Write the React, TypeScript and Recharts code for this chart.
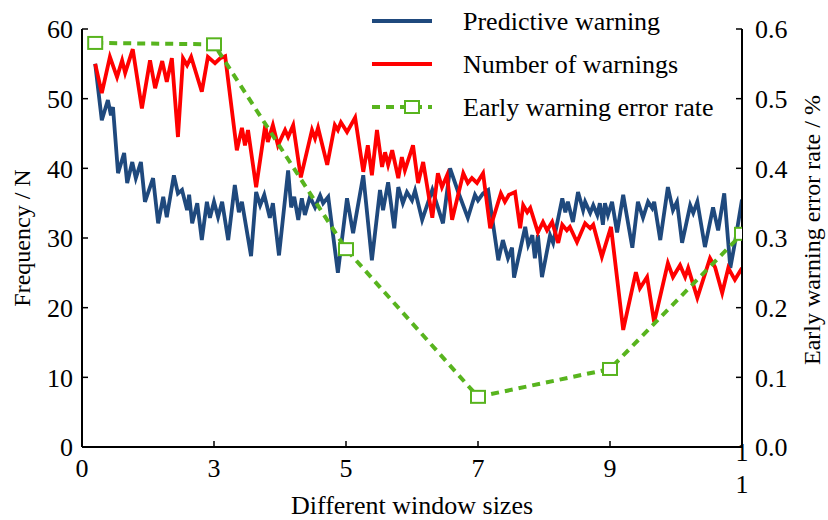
import React from 'react';
import { ComposedChart, Line, XAxis, YAxis, Legend, Label } from 'recharts';

const FONT = 'Liberation Serif, Times New Roman, Times, DejaVu Serif, serif';
const FS = 26;
const FS_ROT = 24;

const xTickPositions = [0, 26, 52, 78, 104, 130];
const xTickLabels = ['0', '3', '5', '7', '9', '11'];
const leftTicks = [0, 10, 20, 30, 40, 50, 60];
const rightTicks = [0, 0.1, 0.2, 0.3, 0.4, 0.5, 0.6];

const predictiveX = [2.6,3.9,5.1,5.7,6.1,7.1,8.3,8.9,9.9,10.6,11.6,12.4,14.0,15.0,16.0,16.7,18.1,18.9,19.7,20.7,21.1,21.7,22.7,23.6,24.6,25.2,26.0,26.8,27.6,28.8,30.1,30.9,31.5,33.3,34.3,35.1,35.9,37.0,37.6,38.8,40.6,41.2,41.8,42.6,43.3,43.9,44.9,45.9,46.9,47.5,48.5,50.4,52.2,53.4,55.4,57.1,58.7,59.3,60.3,61.5,62.3,63.2,64.0,65.0,65.6,67.0,69.0,71.1,72.5,74.1,76.0,77.4,78.0,79.0,80.0,82.0,82.9,83.9,84.7,85.1,87.3,87.9,88.7,89.2,89.8,90.6,92.2,92.8,94.6,95.2,95.7,96.7,97.7,98.7,99.1,100.1,100.7,101.5,102.0,102.6,103.0,103.6,104.4,105.4,106.6,108.4,109.5,110.5,111.5,112.3,112.7,113.9,115.4,116.4,117.2,118.2,119.8,120.4,121.2,122.7,124.3,125.3,126.5,127.7,128.6,130];
const predictiveY = [55,46.9,49.8,47.6,48.8,39.3,42.2,37.9,40.9,38.6,40.9,35.2,38.6,32.1,35.9,33,39,36.4,36.9,34,36.2,32.1,35,29.7,35.2,32.9,35.2,33,35.2,29.7,37.6,33.7,35.2,27.4,36.6,34.7,36.2,32.9,35,27.5,39.7,34.4,35.9,32.6,35.7,33.3,35.9,34.4,36.1,35,35.9,25,35.7,30.7,39,26.8,36.9,34,38,31.4,37.3,35,36.6,35.4,36.8,32.6,36.9,32.1,40,36.6,32.9,36.2,35.4,36.4,36.9,26.8,29.7,27.1,28.6,24.3,31.6,29,30.4,27.1,30.4,24.4,30.4,29.3,35.7,33.7,35.2,32.3,36.6,34,35.2,33.6,34.7,33.3,35,31.9,35,33.3,35.2,30.8,36.2,28.6,35.2,32.9,35.2,34.3,35.2,29.7,37.3,34,35.2,29.3,34.7,33.6,35.2,28.7,34.4,31.1,36.4,25.7,29.3,35.5];

const warningsX = [2.6,3.9,5.5,6.9,7.9,8.5,10.0,11.8,13.4,14.4,15.8,16.7,17.7,18.9,19.9,20.7,21.5,23.6,24.8,26.2,27.2,28.2,30.5,31.5,32.1,32.7,34.3,36.1,36.6,37.6,38.6,40.0,40.6,41.6,43.1,45.3,45.9,46.5,48.3,49.8,50.4,51.0,52.2,53.8,55.4,56.3,57.1,58.1,59.1,59.7,60.3,61.1,62.3,63.0,63.6,65.2,66.2,67.2,69.0,70.1,70.9,71.9,72.9,75.1,76.0,76.8,77.8,79.0,80.4,82.5,83.3,84.1,85.3,86.3,86.9,87.7,88.3,89.8,90.8,91.6,92.6,93.8,94.6,95.5,96.1,97.5,99.1,100.1,100.7,102.4,104.2,106.6,109.1,109.9,111.3,112.7,115.4,116.4,117.8,118.8,119.4,121.2,123.7,124.7,126.1,127.3,128.6,130];
const warningsY = [55,50.8,56,53.1,55.5,53.7,57.1,48.6,55.5,51.5,55.4,52.4,55.8,44.5,55.8,54.8,56,51,56,55.1,55.8,56.1,42.6,45.8,43.3,45.5,37.3,46.2,43.8,46.2,43.3,45.5,44.5,46.2,38.7,45.5,44.3,45.8,40.5,46.2,45.5,46.6,45.2,47.3,39.5,43.3,39,45.5,40.2,42.3,40.5,42.6,38.6,41.6,39.7,43.3,37.9,40.9,32.9,39.3,37.3,39,32.6,39.3,37.9,38.6,37.9,39.3,31.4,36.4,35.2,36.2,36.6,31.4,34.7,33.7,34.3,30.8,32.3,31.1,32.3,29.3,31.9,31.1,31.6,29.4,32.1,31.4,31.9,27.3,31.6,16.8,25.1,22.8,24.4,17.9,26.4,24.4,26.1,24.4,25.7,21.4,27.1,25.8,22.1,25.7,24,25.7];

const errorRateX = [2.6, 26, 52, 78, 104, 130];
const errorRateY = [0.58, 0.578, 0.284, 0.072, 0.112, 0.306];

const BLUE = '#1F497D';
const RED = '#FF0000';
const GREEN = '#58B41E';

const predictiveData = predictiveX.map((x, i) => ({ x, v: predictiveY[i] }));
const warningsData = warningsX.map((x, i) => ({ x, v: warningsY[i] }));
const errorData = errorRateX.map((x, i) => ({ x, v: errorRateY[i] }));

const legendItems = [
  { name: 'Predictive warning', color: BLUE, dashed: false, marker: false },
  { name: 'Number of warnings', color: RED, dashed: false, marker: false },
  { name: 'Early warning error rate', color: GREEN, dashed: true, marker: true },
];

const txtStyle = { fontFamily: FONT };

const SquareDot = (props: any) => {
  const { cx, cy, index } = props;
  if (cx == null || cy == null) return null;
  return <rect key={'d' + index} x={cx - 7} y={cy - 6} width={14} height={12} fill="#fff" stroke={GREEN} strokeWidth={2} />;
};

const XTick = (props: any) => {
  const { x, y, payload } = props;
  const idx = xTickPositions.indexOf(payload.value);
  const label = idx >= 0 ? xTickLabels[idx] : String(payload.value);
  const lines = label.length > 1 ? label.split('') : [label];
  const lh = 32;
  return (
    <text x={x} y={y} textAnchor="middle" style={txtStyle} fontSize={FS} fill="#000">
      {lines.map((l, i) => (
        <tspan key={i} x={x} dy={i === 0 ? 9 - ((lines.length - 1) * lh) / 2 : lh}>{l}</tspan>
      ))}
    </text>
  );
};

const renderLegend = () => (
  <svg width={400} height={130}>
    {legendItems.map((it, i) => {
      const y = 21 + i * 43;
      return (
        <g key={it.name}>
          <line x1={12} x2={72} y1={y} y2={y} stroke={it.color} strokeWidth={it.dashed ? 4 : 3.8}
            strokeDasharray={it.dashed ? '8 6' : undefined} />
          {it.marker && <rect x={45} y={y - 6} width={14} height={12} fill="#fff" stroke={it.color} strokeWidth={2} />}
          <text x={103} y={y} dy={8.5} style={txtStyle} fontSize={FS} fill="#000">{it.name}</text>
        </g>
      );
    })}
  </svg>
);

export default function App() {
  return (
    <div style={{ position: 'absolute', left: 0, top: 0, width: 828, height: 520, background: '#fff', fontFamily: FONT }}>
      <ComposedChart width={828} height={520} margin={{ top: 29, right: 0, bottom: 0, left: 22 }} style={txtStyle}>
        <XAxis
          xAxisId="x"
          dataKey="x"
          type="number"
          domain={[0, 130]}
          ticks={xTickPositions}
          allowDataOverflow
          height={73}
          tickSize={-6}
          tickMargin={27}
          tick={<XTick />}
          axisLine={{ stroke: '#000', strokeWidth: 2 }}
          tickLine={{ stroke: '#000', strokeWidth: 1.5 }}
        >
          <Label
            content={(p: any) => {
              const vb = p.viewBox || {};
              return (
                <text x={vb.x + vb.width / 2} y={vb.y + 67} textAnchor="middle" style={txtStyle} fontSize={FS} fill="#000">
                  Different window sizes
                </text>
              );
            }}
          />
        </XAxis>
        <YAxis
          yAxisId="left"
          orientation="left"
          domain={[0, 60]}
          ticks={leftTicks}
          width={60}
          tickSize={-6}
          tickMargin={15}
          tick={{ fontSize: FS, fill: '#000', style: txtStyle }}
          axisLine={{ stroke: '#000', strokeWidth: 2 }}
          tickLine={{ stroke: '#000', strokeWidth: 1.5 }}
        >
          <Label
            content={(p: any) => {
              const vb = p.viewBox || {};
              const cx = vb.x;
              const cy = vb.y + vb.height / 2;
              return (
                <text x={cx} y={cy} dy={8} transform={`rotate(-90, ${cx}, ${cy})`} textAnchor="middle" style={txtStyle} fontSize={FS_ROT} fill="#000">
                  Frequency / N
                </text>
              );
            }}
          />
        </YAxis>
        <YAxis
          yAxisId="right"
          orientation="right"
          domain={[0, 0.6]}
          ticks={rightTicks}
          width={86}
          tickSize={-6}
          tickMargin={19}
          tickFormatter={(v: number) => v.toFixed(1)}
          tick={{ fontSize: FS, fill: '#000', style: txtStyle }}
          axisLine={{ stroke: '#000', strokeWidth: 2 }}
          tickLine={{ stroke: '#000', strokeWidth: 1.5 }}
        >
          <Label
            content={(p: any) => {
              const vb = p.viewBox || {};
              const cx = vb.x + 70;
              const cy = vb.y + vb.height / 2 - 8;
              return (
                <text x={cx} y={cy} dy={8} transform={`rotate(-90, ${cx}, ${cy})`} textAnchor="middle" style={txtStyle} fontSize={FS_ROT} fill="#000">
                  Early warning error rate / %
                </text>
              );
            }}
          />
        </YAxis>
        <Legend
          layout="vertical"
          align="center"
          verticalAlign="middle"
          content={renderLegend}
          wrapperStyle={{ top: 0, left: 360, width: 400, height: 130 }}
        />
        <Line xAxisId="x" yAxisId="left" data={predictiveData} dataKey="v" name="Predictive warning" type="linear"
          stroke={BLUE} strokeWidth={3.8} dot={false} isAnimationActive={false} />
        <Line xAxisId="x" yAxisId="left" data={warningsData} dataKey="v" name="Number of warnings" type="linear"
          stroke={RED} strokeWidth={3.8} dot={false} isAnimationActive={false} />
        <Line xAxisId="x" yAxisId="right" data={errorData} dataKey="v" name="Early warning error rate" type="linear"
          stroke={GREEN} strokeWidth={4} strokeDasharray="8 6" dot={<SquareDot />} isAnimationActive={false} />
      </ComposedChart>
    </div>
  );
}
